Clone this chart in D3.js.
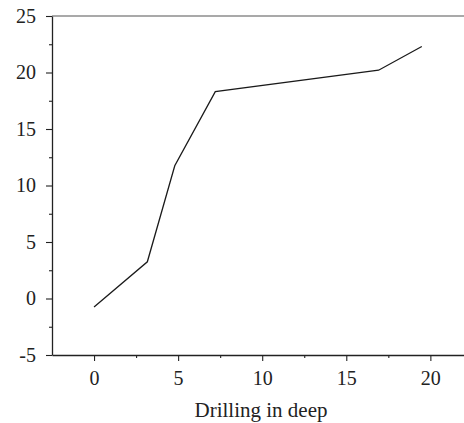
<!DOCTYPE html>
<html><head><meta charset="utf-8">
<script src="https://cdn.jsdelivr.net/npm/d3@7"></script>
<style>body{margin:0;background:#fff}svg{display:block}</style>
</head><body>
<svg id="c" width="464" height="423"></svg>
<script>
const xValues = [0, 3.17, 4.8, 7.21, 16.92, 19.49];
const yValues = [-0.75, 3.25, 11.75, 18.3, 20.2, 22.3];
const xTicks = [0, 5, 10, 15, 20];
const yTicks = [-5, 0, 5, 10, 15, 20, 25];
const xLabel = "Drilling in deep";

const svg = d3.select("#c");
const W = 464, H = 423;
const m = {left: 52, top: 16, right: 0, bottom: 68};
const x = d3.scaleLinear().domain([-2.5, 22]).range([m.left, W - m.right]);
const y = d3.scaleLinear().domain([-5, 25]).range([H - m.bottom, m.top]);
const font = "'Liberation Serif', 'DejaVu Serif', serif";
const fmt = d => String(d);

// top border
svg.append("line").attr("x1", m.left).attr("x2", W).attr("y1", y(25)).attr("y2", y(25))
  .attr("stroke", "#555").attr("stroke-width", 1.2);

const xMinor = d3.range(-2.5, 22.01, 2.5).filter(v => !xTicks.includes(v) && v > -2.5);
const yMinor = d3.range(-5, 25.01, 2.5).filter(v => !yTicks.includes(v));

const gx = svg.append("g").attr("transform", `translate(0,${y(-5)})`);
gx.call(d3.axisBottom(x).tickValues(xMinor).tickSize(3).tickFormat(""));
gx.call(g => g.select(".domain").remove());
svg.append("g").attr("transform", `translate(0,${y(-5)})`)
  .call(d3.axisBottom(x).tickValues(xTicks).tickSize(6).tickPadding(10).tickSizeOuter(0).tickFormat(fmt));

const gy = svg.append("g").attr("transform", `translate(${m.left},0)`);
gy.call(d3.axisLeft(y).tickValues(yMinor).tickSize(3).tickFormat(""));
gy.call(g => g.select(".domain").remove());
svg.append("g").attr("transform", `translate(${m.left},0)`)
  .call(d3.axisLeft(y).tickValues(yTicks).tickSize(6).tickPadding(10).tickSizeOuter(0).tickFormat(fmt));

svg.selectAll(".tick line").attr("stroke", "#222").attr("stroke-width", 1.1);
svg.selectAll(".domain").attr("stroke", "#222").attr("stroke-width", 1.3);
svg.selectAll(".tick text").attr("font-family", font).attr("font-size", 20).attr("fill", "#222");

svg.append("text").attr("x", 261).attr("y", 417).attr("text-anchor", "middle")
  .attr("font-family", font).attr("font-size", 21).attr("fill", "#222").text(xLabel);

const pts = xValues.map((v, i) => [v, yValues[i]]);
svg.append("path").datum(pts)
  .attr("d", d3.line().x(d => x(d[0])).y(d => y(d[1])))
  .attr("fill", "none").attr("stroke", "#1a1a1a").attr("stroke-width", 1.3);
</script>
</body></html>
